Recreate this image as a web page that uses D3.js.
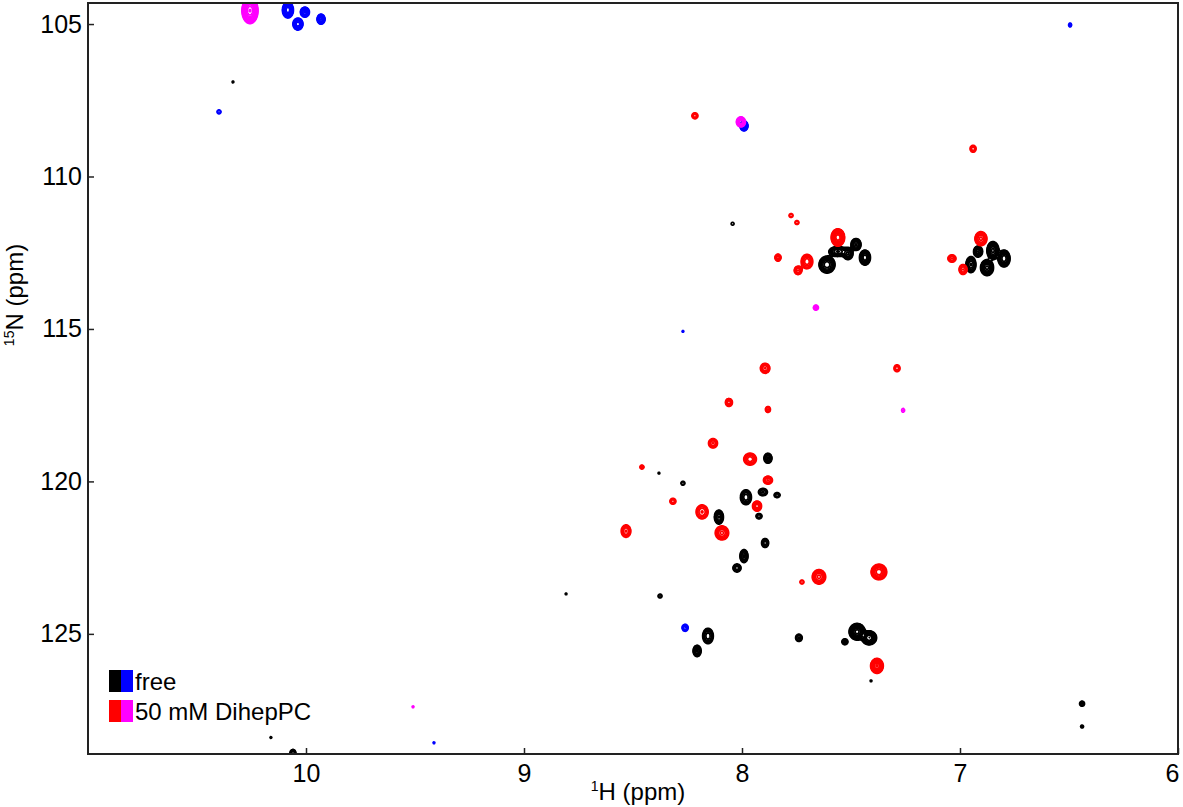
<!DOCTYPE html>
<html><head><meta charset="utf-8">
<script src="https://cdn.jsdelivr.net/npm/d3@7"></script>
<style>
body{margin:0;background:#fff}
text{font-family:"Liberation Sans",Arial,sans-serif;fill:#000}
</style>
</head><body>
<svg id="c" width="1183" height="807"></svg>
<script>
// Axis ticks (ppm)
const xTicks = [10, 9, 8, 7, 6];
const yTicks = [105, 110, 115, 120, 125];
const xDomain = [11, 6];          // 1H ppm (reversed)
const yDomain = [104.31, 128.94]; // 15N ppm (down-field at top)

const legendLabels = ["free", "50 mM DihepPC"];

// Peaks: [1H ppm, 15N ppm, intensity (in lowest-contour units), 1H half-width at lowest contour (ppm), 15N half-width (ppm)]
// free spectrum, positive phase (black)
const freePos = [
  [8.043,111.55,1.3,0.0069,0.049],
  [7.610,112.89,10,0.0367,0.278],
  [7.560,112.46,8,0.0413,0.164],
  [7.514,112.53,8,0.0229,0.196],
  [7.477,112.23,8,0.0229,0.196],
  [7.436,112.66,10,0.0252,0.245],
  [6.917,112.46,8,0.0206,0.180],
  [6.950,112.89,8,0.0229,0.262],
  [6.849,112.43,12,0.0275,0.295],
  [6.876,112.99,12,0.0298,0.262],
  [6.798,112.69,10,0.0275,0.278],
  [7.881,119.24,6,0.0183,0.164],
  [8.271,120.06,2,0.0092,0.065],
  [8.381,119.73,1.15,0.0046,0.033],
  [7.982,120.52,5,0.0252,0.245],
  [7.904,120.35,3,0.0206,0.121],
  [7.839,120.45,2.5,0.0138,0.082],
  [7.922,121.14,2.5,0.0138,0.088],
  [8.106,121.17,8,0.0206,0.229],
  [7.894,122.02,5,0.0160,0.147],
  [7.991,122.45,6,0.0183,0.213],
  [8.023,122.84,5,0.0183,0.131],
  [8.807,123.69,1.15,0.0046,0.033],
  [8.376,123.76,1.8,0.0092,0.065],
  [8.156,125.07,5,0.0243,0.255],
  [8.206,125.56,6,0.0183,0.187],
  [7.739,125.13,3,0.0151,0.121],
  [7.528,125.26,3,0.0138,0.098],
  [7.472,124.93,25,0.0367,0.272],
  [7.417,125.13,15,0.0344,0.229],
  [7.408,126.54,1.15,0.0046,0.033],
  [6.440,127.29,3,0.0115,0.082],
  [6.440,128.04,1.5,0.0069,0.049],
  [10.161,128.40,1.2,0.0046,0.033],
  [10.060,128.92,4,0.0138,0.131],
  [10.335,106.90,1.2,0.0046,0.033]
];
// free spectrum, negative phase (blue)
const freeNeg = [
  [10.083,104.54,14,0.0252,0.262],
  [10.037,105.00,10,0.0229,0.196],
  [10.005,104.61,8,0.0206,0.164],
  [9.931,104.84,8,0.0183,0.164],
  [10.399,107.88,2,0.0092,0.065],
  [7.991,108.34,8,0.0183,0.164],
  [6.495,105.03,2,0.0069,0.065],
  [8.271,115.08,1.2,0.0046,0.033],
  [8.261,124.80,4,0.0138,0.115],
  [9.413,128.57,1.15,0.0046,0.033]
];
// 50 mM DihepPC, positive phase (red)
const dihepPos = [
  [8.216,108.01,2.5,0.0138,0.098],
  [6.940,109.09,2.5,0.0138,0.115],
  [7.775,111.28,2,0.0092,0.065],
  [7.748,111.51,2,0.0092,0.065],
  [7.560,112.00,20,0.0307,0.285],
  [7.835,112.66,5,0.0138,0.115],
  [7.702,112.79,5,0.0266,0.236],
  [7.743,113.08,4,0.0174,0.137],
  [6.904,112.04,6,0.0275,0.229],
  [7.037,112.69,4,0.0183,0.121],
  [6.986,113.05,4,0.0183,0.164],
  [7.894,116.29,4,0.0216,0.164],
  [7.289,116.29,2.5,0.0138,0.115],
  [8.060,117.41,5,0.0160,0.131],
  [7.881,117.64,3,0.0115,0.098],
  [8.133,118.75,4,0.0206,0.154],
  [7.963,119.27,5,0.0289,0.196],
  [8.459,119.53,2.5,0.0092,0.065],
  [7.881,119.96,4,0.0206,0.131],
  [7.931,120.81,7,0.0206,0.164],
  [8.317,120.65,2.5,0.0138,0.098],
  [8.183,121.00,4,0.0275,0.229],
  [8.532,121.63,4,0.0220,0.203],
  [8.092,121.69,6,0.0307,0.229],
  [7.725,123.30,2,0.0092,0.065],
  [7.647,123.13,6,0.0307,0.236],
  [7.372,122.97,10,0.0358,0.255],
  [7.381,126.05,16,0.0289,0.245]
];
// 50 mM DihepPC, negative phase (magenta)
const dihepNeg = [
  [10.257,104.56,30,0.0367,0.426],
  [8.005,108.21,10,0.0206,0.164],
  [7.661,114.30,3,0.0115,0.082],
  [7.261,117.67,1.5,0.0069,0.065],
  [9.509,127.39,1.3,0.0046,0.033]
];

const M = {left: 88, top: 3, right: 1178, bottom: 754};
const x = d3.scaleLinear().domain(xDomain).range([M.left, M.right]);
const y = d3.scaleLinear().domain(yDomain).range([M.top, M.bottom]);
const svg = d3.select('#c');
const gw = M.right - M.left, gh = M.bottom - M.top;

function field(peaks){
  const f = new Float32Array(gw*gh);
  for (const [h,n,a,wh,wn] of peaks){
    const k = Math.sqrt(2*Math.log(Math.max(a,1.05)));
    const cx = x(h) - M.left, cy = y(n) - M.top;
    const sx = Math.max(0.6, Math.abs(x(h + wh/k) - x(h)));
    const sy = Math.max(0.6, Math.abs(y(n + wn/k) - y(n)));
    const i0 = Math.max(0, Math.floor(cx - 5*sx)), i1 = Math.min(gw-1, Math.ceil(cx + 5*sx));
    const j0 = Math.max(0, Math.floor(cy - 5*sy)), j1 = Math.min(gh-1, Math.ceil(cy + 5*sy));
    for (let j=j0;j<=j1;j++){
      const dy = (j + 0.5 - cy)/sy;
      for (let i=i0;i<=i1;i++){
        const dx = (i + 0.5 - cx)/sx;
        f[j*gw+i] += a*Math.exp(-0.5*(dx*dx+dy*dy));
      }
    }
  }
  return f;
}
const levels = d3.range(14).map(k => Math.pow(1.4, k));
const geo = d3.geoPath(d3.geoIdentity().translate([M.left, M.top]));
function draw(peaks, color){
  const f = field(peaks);
  const maxA = d3.max(peaks, d => d[2]);
  const th = levels.filter(l => l < maxA*1.05);
  const cs = d3.contours().size([gw, gh]).thresholds(th)(f);
  svg.append('g').selectAll('path').data(cs).join('path')
    .attr('d', geo).attr('fill','none').attr('stroke',color)
    .attr('stroke-width',1.7).attr('stroke-linejoin','round');
}
draw(freeNeg, '#0000ff');
draw(freePos, '#000000');
draw(dihepNeg, '#ff00ff');
draw(dihepPos, '#ff0000');

// Frame
svg.append('rect').attr('x',M.left).attr('y',M.top).attr('width',gw).attr('height',gh)
  .attr('fill','none').attr('stroke','#222').attr('stroke-width',2);

// Axes (ticks pointing inward)
const gx = svg.append('g').attr('transform',`translate(0,${M.bottom})`)
  .call(d3.axisBottom(x).tickValues(xTicks).tickSize(-6).tickPadding(10).tickFormat(d3.format('d')));
const gy = svg.append('g').attr('transform',`translate(${M.left},0)`)
  .call(d3.axisLeft(y).tickValues(yTicks).tickSize(-6).tickPadding(6).tickFormat(d3.format('d')));
[gx, gy].forEach(g => {
  g.select('.domain').remove();
  g.selectAll('.tick line').attr('stroke','#222').attr('stroke-width',1.5);
  g.selectAll('.tick text').attr('font-size',25).attr('font-family','"Liberation Sans",Arial,sans-serif').attr('fill','#000');
});
// keep the last x label inside the picture
gx.selectAll('.tick text').filter(d => d === xTicks[xTicks.length-1]).attr('dx', -6);

// Axis titles
const xt = svg.append('text').attr('x',(M.left+M.right)/2 + 5).attr('y',800)
  .attr('text-anchor','middle').attr('font-size',24);
xt.append('tspan').attr('font-size',14).attr('dy',-9).text('1');
xt.append('tspan').attr('dy',9).text('H (ppm)');

const yt = svg.append('text').attr('transform','translate(23,295) rotate(-90)')
  .attr('text-anchor','middle').attr('font-size',24);
yt.append('tspan').attr('font-size',14).attr('dy',-9).text('15');
yt.append('tspan').attr('dy',9).text('N (ppm)');

// Legend
const legColors = [['#000000','#0000ff'],['#ff0000','#ff00ff']];
legendLabels.forEach((lab, i) => {
  const yy = 670 + i*30;
  svg.append('rect').attr('x',109).attr('y',yy).attr('width',12).attr('height',22).attr('fill',legColors[i][0]);
  svg.append('rect').attr('x',121).attr('y',yy).attr('width',12).attr('height',22).attr('fill',legColors[i][1]);
  svg.append('text').attr('x',135).attr('y',yy+20).attr('font-size',24).text(lab);
});
</script>
</body></html>
